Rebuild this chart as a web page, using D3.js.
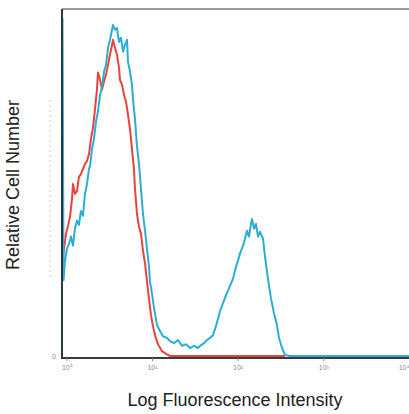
<!DOCTYPE html>
<html>
<head>
<meta charset="utf-8">
<script src="https://cdn.jsdelivr.net/npm/d3@7"></script>
<style>
  html, body { margin: 0; padding: 0; background: #fff; }
  svg { display: block; font-family: 'Liberation Sans', Arial, sans-serif; }
</style>
</head>
<body>
<svg id="chart" width="409" height="414"></svg>
<script>
// log10 of fluorescence intensity (decades) and relative cell count (0-100)
const blueLog = [-0.044, -0.038, -0.032, -0.015, 0.008, 0.032, 0.055, 0.078, 0.101, 0.125, 0.148, 0.171, 0.195,
  0.218, 0.242, 0.265, 0.277, 0.300, 0.323, 0.347, 0.370, 0.394, 0.417, 0.440, 0.464, 0.487, 0.510, 0.534, 0.545,
  0.569, 0.592, 0.615, 0.639, 0.662, 0.685, 0.709, 0.720, 0.744, 0.767, 0.779, 0.802, 0.825, 0.849, 0.872, 0.895,
  0.919, 0.942, 0.965, 0.977, 1.000, 1.024, 1.059, 1.094, 1.129, 1.176, 1.211, 1.257, 1.304, 1.351, 1.397, 1.444,
  1.491, 1.537, 1.561, 1.608, 1.642, 1.677, 1.712, 1.747, 1.794, 1.829, 1.864, 1.899, 1.946, 1.981, 2.004, 2.027,
  2.063, 2.086, 2.109, 2.133, 2.156, 2.168, 2.191, 2.214, 2.238, 2.261, 2.296, 2.319, 2.354, 2.389, 2.424, 2.459,
  2.483, 2.518, 2.553, 2.611, 4.0];
const blueCount = [97.4, 59.6, 21.8, 27.5, 30.9, 32.4, 34.4, 31.8, 36.7, 39.0, 37.8, 41.8, 40.4,
  46.7, 49.6, 53.9, 54.7, 59.6, 62.5, 67.6, 70.5, 75.3, 77.4, 81.9, 83.9, 88.8, 91.1, 94.0, 95.4,
  94.0, 94.5, 90.5, 91.7, 87.7, 89.7, 91.1, 84.8, 81.9, 78.2, 73.9, 68.2, 60.5, 55.3, 48.1, 41.0,
  36.1, 30.9, 25.8, 21.5, 18.0, 13.8, 8.9, 7.2, 5.7, 5.2, 4.3, 3.7, 4.6, 2.9, 3.4, 2.3,
  2.9, 2.3, 2.9, 3.7, 4.6, 5.2, 6.0, 8.6, 12.9, 15.2, 17.5, 19.5, 22.3, 25.8, 27.5, 29.5,
  31.8, 33.8, 36.1, 34.4, 38.1, 39.5, 36.7, 38.1, 34.4, 35.8, 33.8, 28.7, 22.3, 16.6, 12.3, 8.9,
  5.2, 2.3, 0.3, 0, 0];

const redLog = [-0.044, -0.027, -0.003, 0.020, 0.043, 0.067, 0.078, 0.101, 0.125, 0.148, 0.171, 0.195, 0.218,
  0.242, 0.265, 0.288, 0.312, 0.335, 0.358, 0.370, 0.394, 0.417, 0.440, 0.464, 0.487, 0.510, 0.534, 0.545,
  0.569, 0.592, 0.615, 0.627, 0.650, 0.674, 0.697, 0.720, 0.744, 0.767, 0.790, 0.802, 0.825, 0.849, 0.872,
  0.895, 0.919, 0.942, 0.965, 0.989, 1.012, 1.035, 1.070, 1.117, 1.164, 1.211, 2.553];
const redCount = [27.5, 30.9, 35.2, 37.5, 40.1, 45.3, 49.6, 46.7, 47.6, 51.6, 52.4, 53.9, 55.3,
  56.2, 58.2, 62.5, 65.9, 71.1, 76.8, 81.7, 79.6, 76.8, 79.1, 81.1, 83.9, 86.8, 89.7, 91.1,
  88.8, 86.8, 83.1, 79.6, 78.2, 75.3, 73.3, 69.6, 65.3, 59.6, 53.9, 48.1, 41.0, 37.2, 35.2,
  30.4, 26.6, 21.5, 16.6, 11.7, 8.6, 6.0, 3.4, 1.4, 0.6, 0, 0];

const decades = [0, 1, 2, 3, 4];

const svg = d3.select('#chart');
const margin = { left: 62, right: 409, top: 9, bottom: 358 };

const x = d3.scaleLinear()
  .domain([-0.05, 4])
  .range([margin.left, margin.right]);

const y = d3.scaleLinear()
  .domain([0, 100])
  .range([margin.bottom - 2, margin.top]);

const line = d3.line()
  .x(d => x(d[0]))
  .y(d => y(d[1]));

// faint leftover y tick trail
svg.append('line')
  .attr('x1', 50).attr('x2', 50)
  .attr('y1', 100).attr('y2', 278)
  .attr('stroke', '#c8c8c8')
  .attr('stroke-width', 1)
  .attr('stroke-dasharray', '2,3');

// top frame line
svg.append('line')
  .attr('x1', margin.left).attr('x2', margin.right)
  .attr('y1', margin.top).attr('y2', margin.top)
  .attr('stroke', '#9a9a9a')
  .attr('stroke-width', 2);

const series = [
  { name: 'control', color: '#e8443a', data: d3.zip(redLog, redCount) },
  { name: 'stained', color: '#2aaed5', data: d3.zip(blueLog, blueCount) }
];

svg.append('g')
  .attr('class', 'histograms')
  .selectAll('path')
  .data(series)
  .enter()
  .append('path')
  .attr('d', d => line(d.data))
  .attr('fill', 'none')
  .attr('stroke', d => d.color)
  .attr('stroke-width', 2)
  .attr('stroke-linejoin', 'round');

// axes lines
svg.append('line')
  .attr('x1', margin.left).attr('x2', margin.left)
  .attr('y1', margin.top).attr('y2', margin.bottom + 1)
  .attr('stroke', '#2a3a40')
  .attr('stroke-width', 2);

const xAxis = svg.append('g')
  .attr('transform', `translate(0,${margin.bottom})`)
  .call(d3.axisBottom(x)
    .tickValues(decades)
    .tickSize(3)
    .tickFormat(d => '10' + '⁰¹²³⁴'[d]));

xAxis.select('.domain')
  .attr('d', `M${margin.left},0H${margin.right}`)
  .attr('stroke', '#3a3a3a')
  .attr('stroke-width', 2);

xAxis.selectAll('.tick line').attr('stroke', '#888');
xAxis.selectAll('.tick text')
  .attr('fill', '#8a8a8a')
  .attr('font-size', 7)
  .attr('dy', '0.9em')
  // last label sits on the right edge, keep it inside
  .attr('text-anchor', d => d === 4 ? 'end' : 'middle');

svg.append('text')
  .attr('x', 56)
  .attr('y', 359)
  .attr('text-anchor', 'end')
  .attr('font-size', 7)
  .attr('fill', '#8a8a8a')
  .text('0');

// axis titles
svg.append('text')
  .attr('x', 235)
  .attr('y', 406)
  .attr('text-anchor', 'middle')
  .attr('font-size', 18)
  .attr('fill', '#222')
  .text('Log Fluorescence Intensity');

svg.append('text')
  .attr('transform', 'translate(19,185) rotate(-90)')
  .attr('text-anchor', 'middle')
  .attr('font-size', 18)
  .attr('fill', '#222')
  .text('Relative Cell Number');
</script>
</body>
</html>
